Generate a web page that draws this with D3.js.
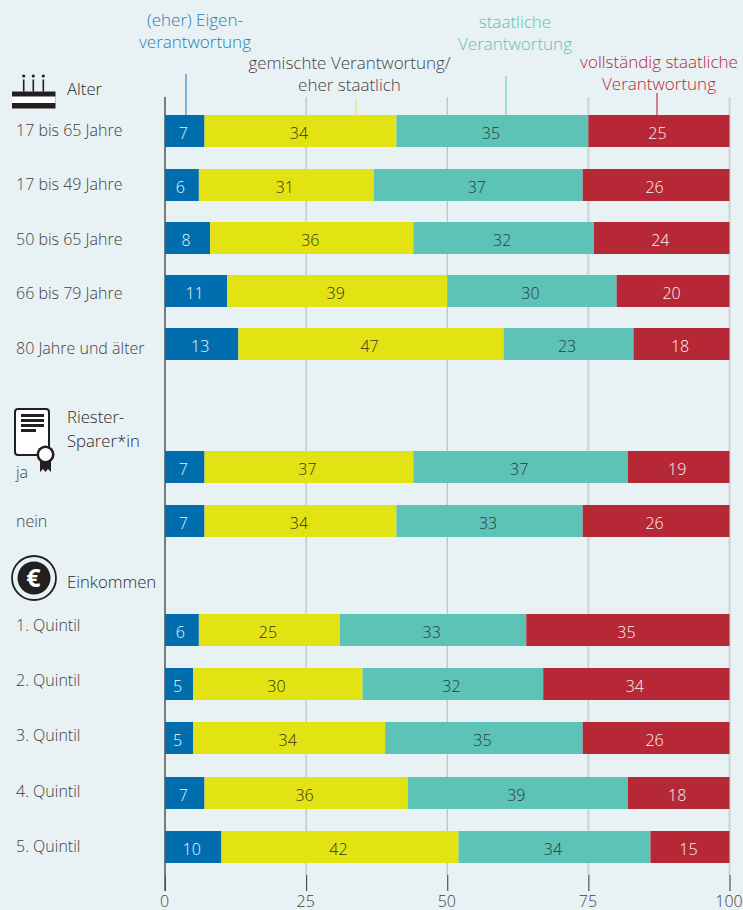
<!DOCTYPE html>
<html>
<head>
<meta charset="utf-8">
<style>
  html, body { margin: 0; padding: 0; background: #e8f1f3; }
  svg { display: block; }
  text { font-family: "Open Sans", sans-serif; font-weight: 300; }
</style>
<script src="https://cdn.jsdelivr.net/npm/d3@7"></script>
</head>
<body>
<div id="chart"></div>
<script>
// categories per group
var ageRows = ["17 bis 65 Jahre", "17 bis 49 Jahre", "50 bis 65 Jahre", "66 bis 79 Jahre", "80 Jahre und älter"];
var riesterRows = ["ja", "nein"];
var incomeRows = ["1. Quintil", "2. Quintil", "3. Quintil", "4. Quintil", "5. Quintil"];
var rows = ageRows.concat(riesterRows, incomeRows);

// printed values, one list per answer
var eigen    = [7, 6, 8, 11, 13, 7, 7, 6, 5, 5, 7, 10];
var gemischt = [34, 31, 36, 39, 47, 37, 34, 25, 30, 34, 36, 42];
var staat    = [35, 37, 32, 30, 23, 37, 33, 33, 32, 35, 39, 34];
var voll     = [25, 26, 24, 20, 18, 19, 26, 35, 34, 26, 18, 15];

// the printed numbers are rounded and don't always add up, so the
// segment ends are read off the bars separately
var endEigen    = [7, 6, 8, 11, 13, 7, 7, 6, 5, 5, 7, 10];
var endGemischt = [41, 37, 44, 50, 60, 44, 41, 31, 35, 39, 43, 52];
var endStaat    = [75, 74, 76, 80, 83, 82, 74, 64, 67, 74, 82, 86];
var endVoll     = [100, 100, 100, 100, 100, 100, 100, 100, 100, 100, 100, 100];

var ticks = [0, 25, 50, 75, 100];
var blue = "#006eae", yellow = "#e3e314", teal = "#5dc3b6", red = "#b72837";

var series = [
  {name: "eigen", values: eigen, start: null, end: endEigen, color: blue, text: "#eef5f7"},
  {name: "gemischt", values: gemischt, start: endEigen, end: endGemischt, color: yellow, text: "#333318"},
  {name: "staat", values: staat, start: endGemischt, end: endStaat, color: teal, text: "#243c3a"},
  {name: "voll", values: voll, start: endStaat, end: endVoll, color: red, text: "#fbf3f3"}
];

var width = 743, height = 910;
var barH = 32;

var svg = d3.select("#chart").append("svg")
    .attr("width", width)
    .attr("height", height);

var x = d3.scaleLinear().domain([0, 100]).range([165, 729.5]);

// rows sit in three blocks
function rowTop(i) {
  if (i < 5) return Math.round(115.4 + i * 53.25);
  if (i < 7) return 451 + (i - 5) * 54;
  return Math.round(614 + (i - 7) * 54.2);
}

// the row labels drift a little against the bars in the original
function labelY(i) {
  if (i < 5) return 135.5 + i * 54.5;
  if (i == 5) return 478;
  if (i == 6) return 527;
  return 631 + (i - 7) * 55.2;
}

// grid lines, behind the bars
svg.append("g").selectAll("line")
    .data(ticks.slice(1))
    .enter().append("line")
    .attr("x1", function(d) { return x(d); })
    .attr("x2", function(d) { return x(d); })
    .attr("y1", 97)
    .attr("y2", 875)
    .attr("stroke", function(d) { return d < 75 ? "#b4b9bb" : "#cdd3d6"; })
    .attr("stroke-width", function(d) { return d < 75 ? 1 : 2; });

// bars
series.forEach(function(s) {
  svg.append("g").selectAll("rect")
      .data(rows)
      .enter().append("rect")
      .attr("x", function(d, i) { return x(s.start ? s.start[i] : 0); })
      .attr("y", function(d, i) { return rowTop(i); })
      .attr("width", function(d, i) { return x(s.end[i]) - x(s.start ? s.start[i] : 0); })
      .attr("height", barH)
      .attr("fill", s.color);

  svg.append("g").selectAll("text")
      .data(rows)
      .enter().append("text")
      .attr("x", function(d, i) { return (x(s.start ? s.start[i] : 0) + x(s.end[i])) / 2 - 1.5; })
      .attr("y", function(d, i) { return rowTop(i) + 24; })
      .attr("text-anchor", "middle")
      .attr("font-size", 16)
      .attr("fill", s.text)
      .text(function(d, i) { return s.values[i]; });
});

// row labels
svg.append("g").selectAll("text")
    .data(rows)
    .enter().append("text")
    .attr("x", 16)
    .attr("y", function(d, i) { return labelY(i); })
    .attr("font-size", 16)
    .attr("fill", "#3f3f3f")
    .text(function(d) { return d; });

// axis
var axis = svg.append("g")
    .attr("transform", "translate(0,891)")
    .call(d3.axisBottom(x).tickValues(ticks).tickSize(-16).tickPadding(0).tickSizeOuter(0));
axis.select(".domain").remove();
axis.selectAll("line").attr("stroke", "#333");
axis.selectAll("text")
    .attr("y", 16)
    .attr("dy", 0)
    .attr("dx", -1)
    .attr("font-size", 16)
    .attr("fill", "#3f3f3f")
    .style("font-family", '"Open Sans", sans-serif');

svg.append("line")
    .attr("x1", x(0)).attr("x2", x(0))
    .attr("y1", 97).attr("y2", 891)
    .attr("stroke", "#555")
    .attr("stroke-width", 1.5);

// legend labels with their leader lines
var legend = [
  {lines: ["(eher) Eigen-", "verantwortung"], cx: 195, y: 26, lx: 186, ly: 74, color: "#1f7fb8", line: "#5a9fca"},
  {lines: ["gemischte Verantwortung/", "eher staatlich"], cx: 349.5, y: 69, lx: 356, ly: 99, color: "#454545", line: "#e6e67a"},
  {lines: ["staatliche", "Verantwortung"], cx: 515, y: 28, lx: 506, ly: 76, color: "#5dc3b6", line: "#8ad3ca"},
  {lines: ["vollständig staatliche", "Verantwortung"], cx: 659, y: 68, lx: 657, ly: 93, color: "#b72837", line: "#c7596a"}
];
legend.forEach(function(l) {
  var t = svg.append("text")
      .attr("text-anchor", "middle")
      .attr("font-size", 17)
      .attr("fill", l.color);
  l.lines.forEach(function(s, i) {
    t.append("tspan").attr("x", l.cx).attr("y", l.y + i * 21.7).text(s);
  });
  svg.append("line")
      .attr("x1", l.lx).attr("x2", l.lx)
      .attr("y1", l.ly).attr("y2", 115)
      .attr("stroke", l.line)
      .attr("stroke-width", 1.5);
});

// group headers
function header(lines, y) {
  lines.forEach(function(s, i) {
    svg.append("text")
        .attr("x", 67)
        .attr("y", y + i * 24)
        .attr("font-size", 16.7)
        .attr("fill", "#2b2b2b")
        .style("font-weight", 350)
        .text(s);
  });
}
header(["Alter"], 95);
header(["Riester-", "Sparer*in"], 423);
header(["Einkommen"], 588);

// icon: cake
var cake = svg.append("g").attr("fill", "#231f20");
cake.append("rect").attr("x", 12).attr("y", 91.5).attr("width", 43.5).attr("height", 17);
cake.append("rect").attr("x", 12).attr("y", 96.5).attr("width", 43.5).attr("height", 6.5).attr("fill", "#fff");
[23.7, 33.3, 43.3].forEach(function(cx) {
  cake.append("rect").attr("x", cx - 0.8).attr("y", 79.5).attr("width", 1.6).attr("height", 12);
  cake.append("circle").attr("cx", cx).attr("cy", 76).attr("r", 1.6);
});

// icon: certificate
var cert = svg.append("g");
cert.append("rect").attr("x", 15).attr("y", 409).attr("width", 34).attr("height", 46).attr("rx", 3)
    .attr("fill", "#fff").attr("stroke", "#231f20").attr("stroke-width", 2);
[[415.5, 44], [420.5, 44], [425.5, 44], [430.5, 36]].forEach(function(l) {
  cert.append("rect").attr("x", 21).attr("y", l[0] - 1.5).attr("width", l[1] - 21).attr("height", 3).attr("fill", "#231f20");
});
cert.append("path").attr("d", "M40 458 L40 472 L43 469 L45.5 472 L48 469 L51 472 L51 458 Z").attr("fill", "#231f20");
cert.append("circle").attr("cx", 45.5).attr("cy", 454.5).attr("r", 9).attr("fill", "#231f20");
cert.append("circle").attr("cx", 45.5).attr("cy", 454.5).attr("r", 6.5).attr("fill", "#fff");

// icon: euro coin
var coin = svg.append("g");
coin.append("circle").attr("cx", 34).attr("cy", 578).attr("r", 22).attr("fill", "none")
    .attr("stroke", "#231f20").attr("stroke-width", 1.8);
coin.append("circle").attr("cx", 34).attr("cy", 578).attr("r", 16.5).attr("fill", "#231f20");
coin.append("text").attr("x", 33.5).attr("y", 587).attr("text-anchor", "middle")
    .attr("font-size", 25).attr("fill", "#fff").style("font-weight", 700).text("€");
</script>
</body>
</html>
